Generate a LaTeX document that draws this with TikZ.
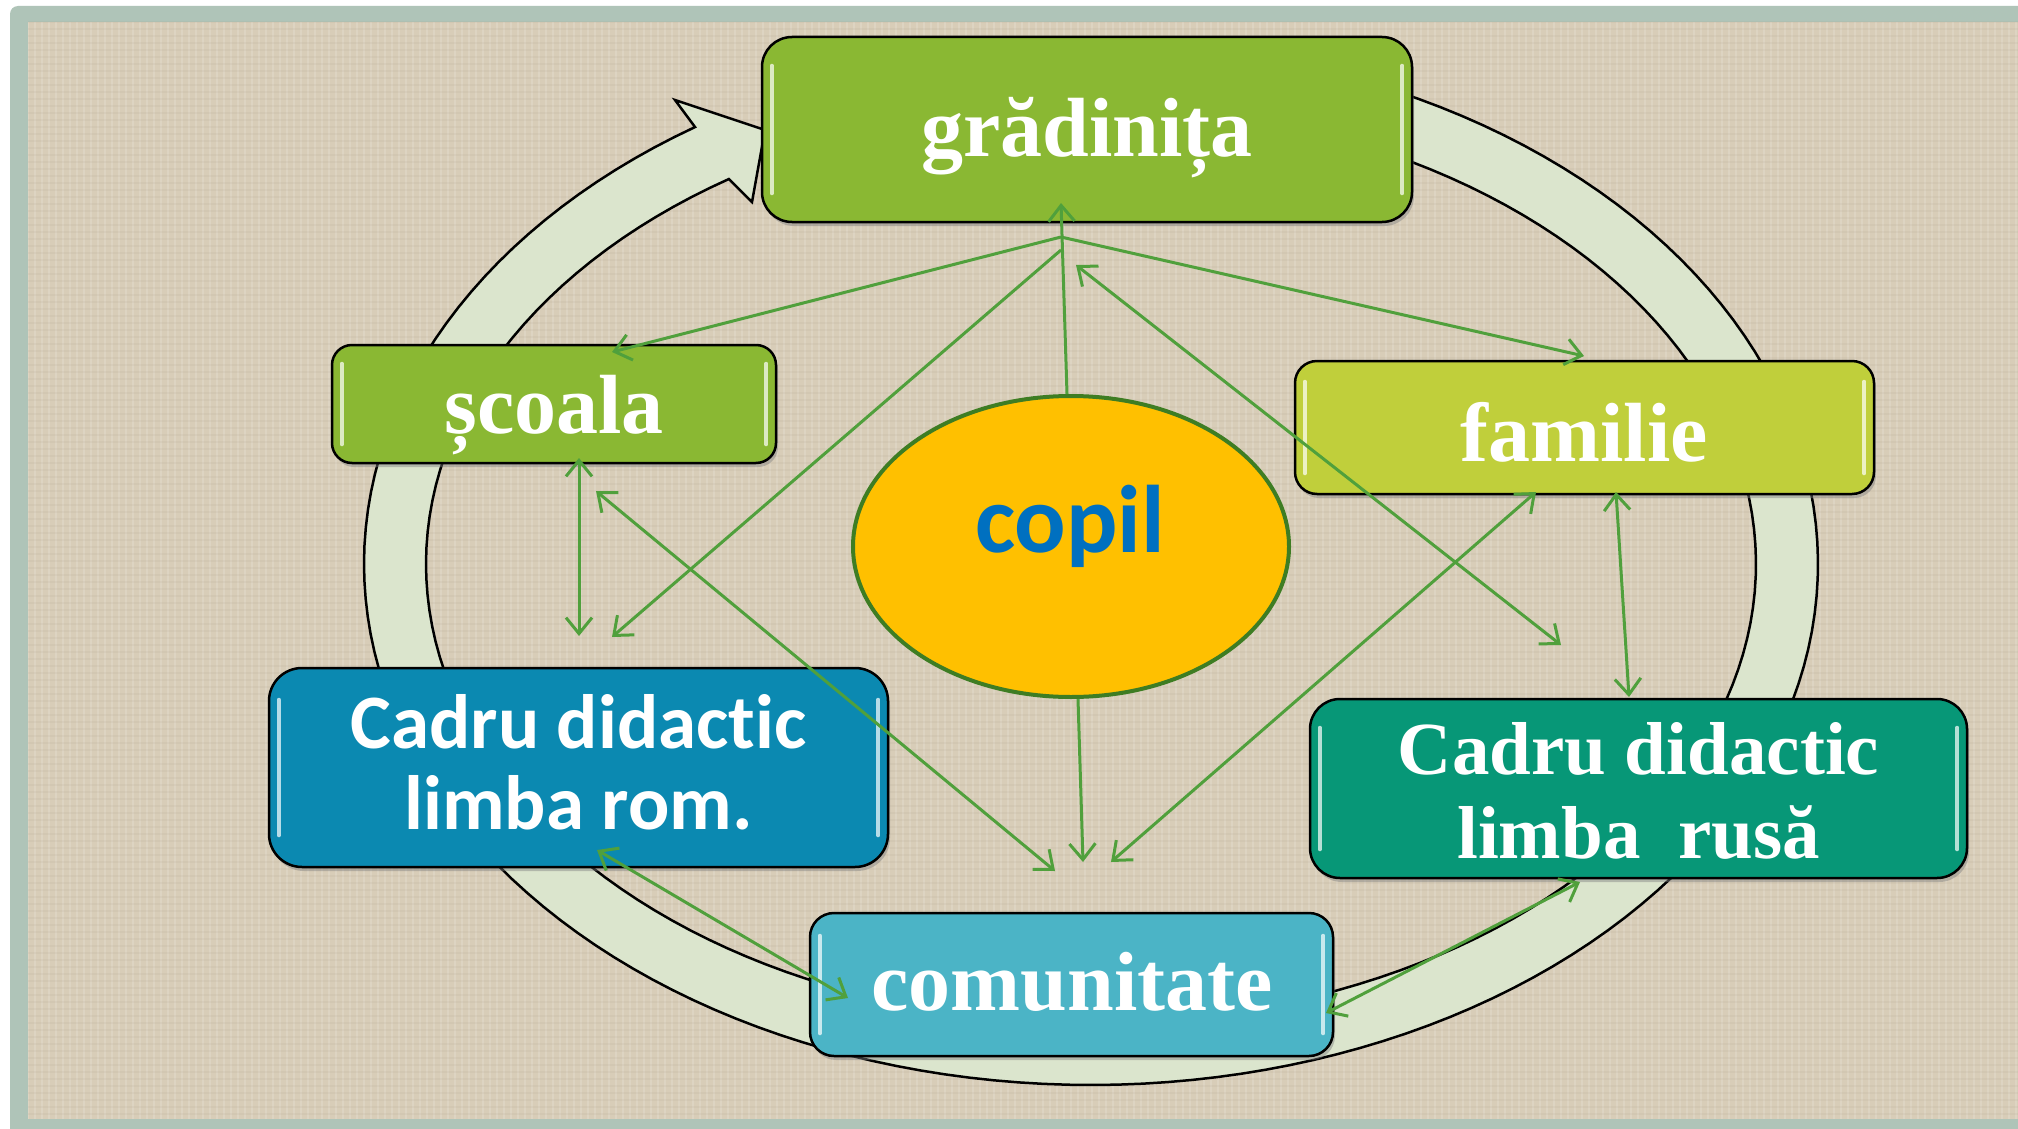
\documentclass[tikz,border=0pt]{standalone}
\usepackage{fontspec}
\setmainfont{Liberation Serif}
\newfontfamily\calfont[Ligatures={NoCommon,NoRare}]{Carlito}
\usetikzlibrary{arrows.meta,shadows,shapes.geometric}
\definecolor{sage}{RGB}{175,196,184}
\definecolor{linen}{RGB}{216,205,184}
\definecolor{linendark}{RGB}{160,145,120}
\definecolor{ringfill}{RGB}{219,229,205}
\definecolor{gradgreen}{RGB}{138,184,51}
\definecolor{famgreen}{RGB}{192,207,59}
\definecolor{romblue}{RGB}{11,137,177}
\definecolor{rusgreen}{RGB}{7,151,119}
\definecolor{comcyan}{RGB}{75,180,198}
\definecolor{copilfill}{RGB}{255,192,0}
\definecolor{copiledge}{RGB}{62,125,35}
\definecolor{copiltext}{RGB}{0,112,192}
\definecolor{linkgreen}{RGB}{80,160,60}
\tikzset{
  box/.style={rectangle, draw=black, line width=2.5pt, inner sep=0pt,
    drop shadow={shadow xshift=2pt, shadow yshift=-4pt, opacity=0.45}},
  serifbig/.style={anchor=base, text=white, inner sep=0pt,
    font=\bfseries\fontsize{84}{90}\selectfont},
  serifmid/.style={anchor=base, text=white, inner sep=0pt,
    font=\bfseries\fontsize{75}{80}\selectfont},
  sansmid/.style={anchor=base, text=white, inner sep=0pt,
    font=\calfont\bfseries\fontsize{77}{80}\selectfont},
  hlbar/.style={line width=4pt, line cap=round},
  conn/.style={draw=linkgreen, line width=3pt, -{Straight Barb[length=16pt,width=26pt]}},
  conntwo/.style={draw=linkgreen, line width=3pt,
    {Straight Barb[length=16pt,width=26pt]}-{Straight Barb[length=16pt,width=26pt]}}
}
\newcommand\glossbars[3]{%
  \draw[hlbar, #3] ([xshift=11pt,yshift=-#2pt]#1.north west) -- ([xshift=11pt,yshift=#2pt]#1.south west);
  \draw[hlbar, #3] ([xshift=-11pt,yshift=-#2pt]#1.north east) -- ([xshift=-11pt,yshift=#2pt]#1.south east);
}
\begin{document}
\begin{tikzpicture}[x=1pt,y=-1pt]
\useasboundingbox (0,0) rectangle (2018,1129);
\clip (0,0) rectangle (2018,1129);
% background and frame
\fill[white] (0,0) rectangle (2018,1129);
\fill[sage, rounded corners=8pt] (10,6) rectangle (2040,1145);
\fill[linen] (28,22) rectangle (2018,1119);
% faint linen texture
\begin{scope}
  \clip (28,22) rectangle (2018,1119);
  \foreach \i in {0,7,...,1995} {
    \draw[white, opacity=0.14, line width=1.6pt] (28+\i,22) -- (28+\i,1119);
  }
  \foreach \j in {0,7,...,1100} {
    \draw[linendark, opacity=0.09, line width=1.6pt] (28,22+\j) -- (2018,22+\j);
  }
\end{scope}

% circular arrow band
\filldraw[fill=ringfill, draw=black, line width=2.5pt, line join=miter]
  plot[domain=-75:237, samples=160, variable=\t] ({1091+727*cos(\t)},{564+521*sin(\t)})
  -- (675,100) -- (765,130) -- (752,202)
  -- plot[domain=237:-75, samples=160, variable=\t] ({1091+665*cos(\t)},{564+459*sin(\t)})
  -- cycle;

% boxes
\node[box, fill=gradgreen, minimum width=650pt, minimum height=185pt, rounded corners=30pt] (grad) at (1087,129.5) {};
\node[box, fill=gradgreen, minimum width=444pt, minimum height=118pt, rounded corners=20pt] (scoala) at (554,404) {};
\node[box, fill=famgreen, minimum width=579pt, minimum height=133pt, rounded corners=22pt] (familie) at (1584.5,427.5) {};
\node[box, fill=romblue, minimum width=619pt, minimum height=199pt, rounded corners=33pt] (rom) at (578.5,767.5) {};
\node[box, fill=rusgreen, minimum width=657pt, minimum height=179pt, rounded corners=30pt] (rusa) at (1638.5,788.5) {};
\node[box, fill=comcyan, minimum width=523pt, minimum height=143pt, rounded corners=24pt] (comun) at (1071.5,984.5) {};

\glossbars{grad}{30}{gradgreen!30!white}
\glossbars{scoala}{20}{gradgreen!30!white}
\glossbars{familie}{22}{famgreen!30!white}
\glossbars{rom}{33}{romblue!30!white}
\glossbars{rusa}{30}{rusgreen!30!white}
\glossbars{comun}{24}{comcyan!30!white}

% central ellipse
\node[ellipse, fill=copilfill, draw=copiledge, line width=4pt, minimum width=436pt, minimum height=301pt, inner sep=0pt] (copil) at (1071,546.5) {};

% texts
\node[serifbig] (t-grad) at (1087,157) {grădinița};
\node[serifbig] (t-scoala) at (554,433) {școala};
\node[serifbig] (t-fam) at (1584,461) {familie};
\node[serifbig] (t-comun) at (1072,1010) {comunitate};
\node[anchor=base, text=copiltext, inner sep=0pt, font=\calfont\bfseries\fontsize{96}{100}\selectfont] (t-copil) at (1070,552) {copil};
\node[sansmid] (t-rom1) at (578.5,748) {Cadru didactic};
\node[sansmid] (t-rom2) at (578.5,829) {limba rom.};
\node[serifmid] (t-rus1) at (1638.5,774) {Cadru didactic};
\node[serifmid] (t-rus2) at (1638.5,858) {limba\ \ rusă};

% connector end points
\coordinate (hub) at (1061,237);
\coordinate (hubb) at (1061,250);
\coordinate (grad-in) at (1061,203);
\coordinate (sc-in) at (612,352);
\coordinate (fam-in) at (1584,356);
\coordinate (sc-low) at (612,637);
\coordinate (gr-r) at (1076,265);
\coordinate (fam-low) at (1561,645);
\coordinate (sc-bot) at (579,458);
\coordinate (rom-up) at (579,636);
\coordinate (sc-x) at (596,491);
\coordinate (com-a) at (1055,871);
\coordinate (com-b) at (1083,862);
\coordinate (com-c) at (1111,862);
\coordinate (fam-bl) at (1536,492);
\coordinate (fam-br) at (1616,492);
\coordinate (rus-top) at (1629,697);
\coordinate (rom-in) at (597,850);
\coordinate (com-l) at (848,998);
\coordinate (com-r) at (1326,1013);
\coordinate (rus-bot) at (1580,882);

% connectors
\draw[conn] (hub) -- (sc-in);
\draw[conn] (hub) -- (fam-in);
\draw[conn] ([xshift=-4pt]copil.north) -- (grad-in);
\draw[conn] (hubb) -- (sc-low);
\draw[conntwo] (gr-r) -- (fam-low);
\draw[conntwo] (sc-bot) -- (rom-up);
\draw[conntwo] (sc-x) -- (com-a);
\draw[conn] ([xshift=7pt]copil.south) -- (com-b);
\draw[conntwo] (com-c) -- (fam-bl);
\draw[conntwo] (fam-br) -- (rus-top);
\draw[conntwo] (rom-in) -- (com-l);
\draw[conntwo] (com-r) -- (rus-bot);
\end{tikzpicture}
\end{document}
